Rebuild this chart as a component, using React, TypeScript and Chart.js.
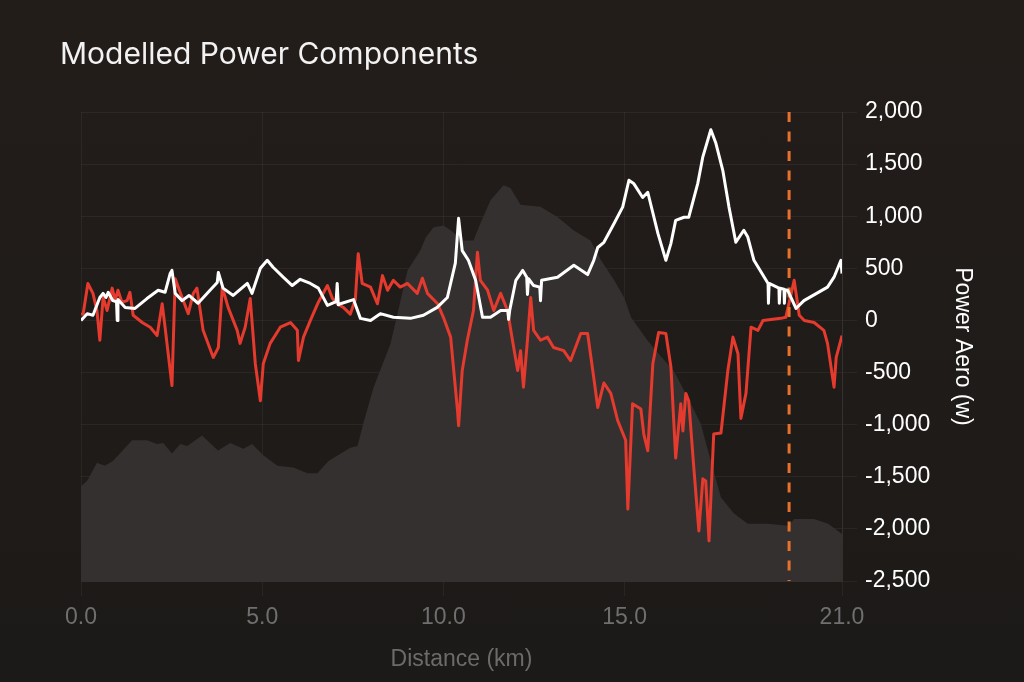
import { useEffect, useRef } from 'react';
import Chart from 'chart.js/auto';

// distance (km) / power (w)
const aeroKm = [
  0.0, 0.17, 0.33, 0.52, 0.61, 0.69, 0.75, 0.88, 0.98, 1.0, 1.02, 1.22, 1.49, 1.82, 2.13, 2.32, 2.46, 2.51,
  2.6, 2.79, 2.98, 3.23, 3.56, 3.76, 3.79, 3.92, 4.2, 4.59, 4.72, 4.95, 5.14, 5.3, 5.58, 5.83, 6.05, 6.33,
  6.55, 6.8, 7.04, 7.07, 7.1, 7.16, 7.52, 7.71, 7.99, 8.26, 8.62, 9.09, 9.45, 9.83, 10.11, 10.33, 10.42,
  10.52, 10.69, 10.89, 11.08, 11.3, 11.58, 11.78, 11.8, 11.83, 12.0, 12.19, 12.3, 12.32, 12.35, 12.49, 12.66,
  12.68, 12.71, 13.15, 13.6, 13.98, 14.15, 14.26, 14.43, 14.71, 14.95, 15.12, 15.25, 15.5, 15.64, 15.92,
  16.14, 16.28, 16.41, 16.64, 16.77, 17.02, 17.16, 17.38, 17.52, 17.71, 17.88, 18.07, 18.29, 18.4, 18.57,
  18.96, 18.97, 18.99, 19.26, 19.27, 19.29, 19.4, 19.41, 19.43, 19.5, 19.73, 19.95, 20.6, 20.78, 20.97, 21.0,
];
const aeroW = [
  0, 65, 50, 220, 260, 220, 270, 190, 180, 0, 200, 125, 115, 210, 290, 270, 450, 480,
  260, 190, 240, 165, 290, 365, 460, 310, 240, 355, 260, 500, 577, 510, 415, 335, 395, 355,
  310, 145, 180, 355, 150, 160, 200, 20, 0, 65, 30, 20, 50, 125, 220, 550, 980,
  670, 577, 385, 30, 30, 95, 95, 10, 95, 385, 480, 415, 250, 400, 335, 320,
  190, 385, 415, 530, 440, 577, 700, 750, 930, 1090, 1345, 1315, 1180, 1230, 835,
  577, 740, 960, 990, 990, 1315, 1570, 1830, 1700, 1440, 1090, 750, 865, 800, 577,
  355, 165, 355, 310, 165, 310, 300, 165, 295, 290, 115, 190, 320, 415, 577, 450,
];

const gravityKm = [
  0.0, 0.06, 0.19, 0.33, 0.44, 0.52, 0.61, 0.72, 0.86, 0.94, 1.02, 1.13, 1.27, 1.35, 1.44, 1.69, 1.91, 2.1,
  2.24, 2.32, 2.51, 2.6, 2.79, 2.96, 3.1, 3.2, 3.37, 3.65, 3.79, 3.9, 4.06, 4.31, 4.39, 4.53, 4.67,
  4.81, 4.95, 5.03, 5.22, 5.5, 5.78, 5.97, 6.0, 6.14, 6.33, 6.55, 6.8, 6.94, 7.07, 7.24, 7.43, 7.57, 7.65,
  7.76, 7.99, 8.18, 8.32, 8.46, 8.62, 8.81, 9.01, 9.28, 9.42, 9.56, 9.84, 10.0, 10.2, 10.39, 10.42, 10.52,
  10.66, 10.83, 10.94, 11.02, 11.22, 11.39, 11.58, 11.77, 11.94, 12.05, 12.13, 12.21, 12.32, 12.41, 12.49,
  12.68, 12.87, 13.04, 13.32, 13.51, 13.79, 13.98, 14.15, 14.26, 14.43, 14.62, 14.81, 15.03, 15.09, 15.22,
  15.45, 15.53, 15.64, 15.78, 15.94, 16.14, 16.28, 16.41, 16.55, 16.61, 16.69, 16.77, 16.91, 17.05, 17.16,
  17.24, 17.33, 17.46, 17.66, 17.85, 17.99, 18.13, 18.21, 18.35, 18.49, 18.68, 18.82, 19.31, 19.45, 19.68,
  19.82, 19.96, 20.23, 20.5, 20.6, 20.78, 20.84, 21.0,
];
const gravityW = [
  60, 65, 355, 260, 95, -190, 220, 95, 310, 190, 290, 175, 190, 270, 50, -20, -65, -145,
  160, -65, -625, 400, 220, 65, 260, 310, -95, -355, -260, 320, 125, -95, -220, -65, 210,
  -415, -770, -415, -220, -65, -20, -95, -385, -160, 0, 175, 335, 210, 160, 125, 60, 200, 640,
  355, 320, 160, 430, 290, 385, 320, 355, 260, 405, 260, 160, 30, -160, -865, -1010, -480,
  -190, 95, 655, 385, 290, 95, 260, 95, -260, -480, -290, -640, -190, 220, -95,
  -190, -160, -260, -290, -385, -125, -125, -550, -835, -600, -700, -960, -1150, -1810, -800,
  -850, -1090, -1250, -415, -115, -125, -450, -1320, -800, -1060, -700, -770, -1410, -2020, -1520,
  -1540, -2115, -1090, -1080, -480, -160, -320, -940, -700, -65, -95, 0, 20, 30, 385,
  50, 0, -20, -95, -220, -640, -355, -145,
];

// elevation profile (m) for the grey area
const elevKm = [
  0.0, 0.17, 0.44, 0.66, 0.88, 1.41, 1.82, 2.1, 2.27, 2.51, 2.74, 2.93, 3.34, 3.78, 4.12, 4.48, 4.72, 5.03,
  5.42, 5.86, 6.25, 6.52, 6.83, 7.43, 7.63, 7.79, 8.07, 8.54, 9.01, 9.37, 9.51, 9.73, 10.0, 10.2, 10.55,
  10.83, 11.02, 11.3, 11.66, 11.85, 12.13, 12.68, 13.15, 13.59, 14.06, 14.35, 14.71, 14.99, 15.18, 15.64,
  15.92, 16.36, 16.74, 17.1, 17.38, 17.66, 18.02, 18.4, 18.96, 19.51, 19.68, 20.23, 20.62, 21.0,
];
const elevM = [
  101, 107, 126, 123, 128, 150, 150, 146, 147, 136, 146, 144, 155, 139, 147, 141, 146, 134,
  123, 121, 115, 115, 128, 142, 144, 168, 206, 253, 331, 353, 366, 377, 379, 374, 363,
  363, 381, 406, 422, 419, 401, 399, 388, 374, 363, 342, 321, 302, 281, 256,
  243, 224, 196, 168, 128, 89, 72, 61, 61, 59, 66, 66, 61, 50,
];

const markerKm = 19.54;
const xTicks = [0, 5, 10, 15, 21];

const gridColor = 'rgba(255,255,255,0.05)';
const axisFont = { family: '"Liberation Sans", Arial, sans-serif', size: 23 };

export default function App() {
  const canvasRef = useRef<HTMLCanvasElement>(null);

  useEffect(() => {
    if (!canvasRef.current) return;
    const pts = (xs: number[], ys: number[]) => xs.map((x, i) => ({ x, y: ys[i] }));

    const chart = new Chart(canvasRef.current, {
      type: 'line',
      data: {
        datasets: [
          {
            label: 'Aero',
            data: pts(aeroKm, aeroW),
            borderColor: '#ffffff',
            borderWidth: 3,
            pointRadius: 0,
            tension: 0,
            borderJoinStyle: 'round',
            order: 1,
          },
          {
            label: 'Position',
            data: [{ x: markerKm, y: 2000 }, { x: markerKm, y: -2500 }],
            borderColor: '#e8722b',
            borderWidth: 3,
            borderDash: [10, 9.5],
            pointRadius: 0,
            order: 2,
          },
          {
            label: 'Gravity',
            data: pts(gravityKm, gravityW),
            borderColor: '#e53a2e',
            borderWidth: 3,
            pointRadius: 0,
            tension: 0,
            borderJoinStyle: 'round',
            order: 3,
          },
          {
            label: 'Elevation',
            data: pts(elevKm, elevM),
            yAxisID: 'elev',
            borderWidth: 0,
            backgroundColor: '#33302f',
            fill: 'start',
            pointRadius: 0,
            tension: 0,
            order: 4,
          },
        ],
      },
      options: {
        responsive: true,
        maintainAspectRatio: false,
        animation: false,
        layout: { padding: { top: 112, left: 81, right: 0, bottom: 0 } },
        plugins: {
          legend: { display: false },
          tooltip: { enabled: false },
        },
        scales: {
          x: {
            type: 'linear',
            min: 0,
            max: 21,
            afterBuildTicks: (s: any) => {
              s.ticks = xTicks.map((value) => ({ value }));
            },
            afterFit: (s: any) => {
              s.height = 101;
            },
            ticks: {
              autoSkip: false,
              maxRotation: 0,
              padding: 8,
              color: '#6f6f6f',
              font: axisFont,
              callback: (v: any) => Number(v).toFixed(1),
            },
            grid: { color: gridColor, tickLength: 15 },
            border: { color: gridColor },
            title: {
              display: true,
              text: 'Distance (km)',
              color: '#6b6b6b',
              font: axisFont,
              padding: { top: 0, bottom: 9 },
            },
          },
          y: {
            position: 'right',
            min: -2500,
            max: 2000,
            afterFit: (s: any) => {
              s.width = 182;
            },
            ticks: {
              stepSize: 500,
              padding: 8,
              color: '#ffffff',
              font: axisFont,
              callback: (v: any) => Number(v).toLocaleString('en-US'),
            },
            grid: { color: gridColor, tickLength: 15 },
            border: { color: gridColor },
            title: {
              display: true,
              text: 'Power Aero (w)',
              color: '#ffffff',
              font: axisFont,
              padding: { top: 48, bottom: 0 },
            },
          },
          elev: {
            display: false,
            min: 0,
            max: 500,
          },
        },
      },
    });

    return () => chart.destroy();
  }, []);

  return (
    <div
      style={{
        position: 'fixed',
        left: 0,
        top: 0,
        width: 1024,
        height: 682,
        background: 'linear-gradient(#231d1a, #1c1a18)',
      }}
    >
      <div
        style={{
          position: 'absolute',
          left: 60,
          top: 38,
          color: '#f2f2f2',
          font: '400 30px Inter, "Liberation Sans", sans-serif',
          lineHeight: '30px',
          whiteSpace: 'nowrap',
        }}
      >
        Modelled Power Components
      </div>
      <canvas ref={canvasRef} />
    </div>
  );
}
